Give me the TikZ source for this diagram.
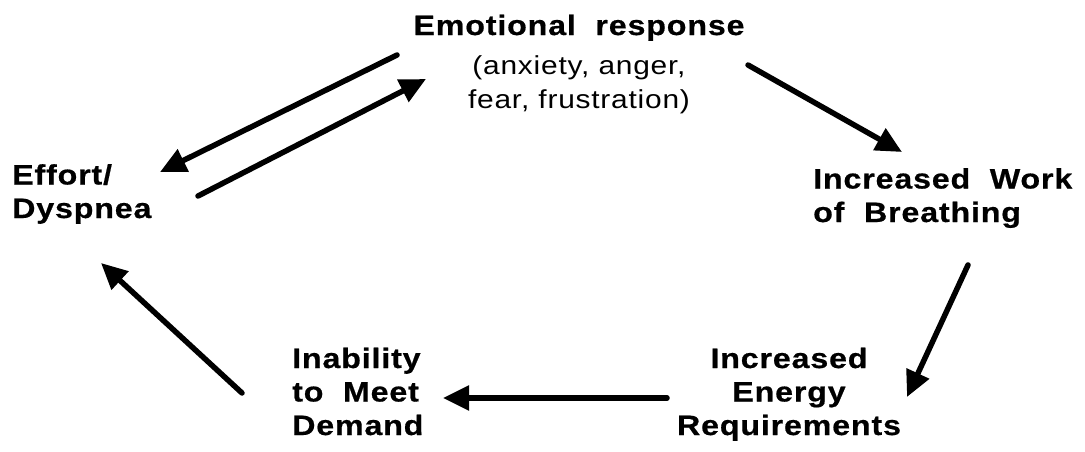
\documentclass[tikz,border=0pt]{standalone}
\usepackage{fontspec}
\setmainfont{Liberation Sans}[FakeStretch=1.15,LetterSpace=3,
  BoldFeatures={FakeBold=0.6}]
\usetikzlibrary{arrows.meta}

\begin{document}
\begin{tikzpicture}
  [x=1pt,y=-1pt,
   % Styles
   box/.style={inner sep=0pt,anchor=base,
     font=\bfseries\fontsize{28}{33.5}\selectfont},
   flow/.style={line width=5.5pt,line cap=round,
     -{Triangle[length=26pt,width=24pt]}}]

  \useasboundingbox (0,0) rectangle (1085,452);

  % The labels (base = last line)
  \node[box,align=center] (emo) at (579,108)
    {Emotional\ \ response\\[6pt]
     {\mdseries\fontsize{26}{32}\selectfont (anxiety, anger,}\\
     {\mdseries\fontsize{26}{32}\selectfont fear, frustration)}};
  \node[box,align=left,anchor=base west] (effort) at (12,218) {Effort/\\Dyspnea};
  \node[box,align=left,anchor=base west] (work) at (813,222) {Increased\ \ Work\\of\ \ Breathing};
  \node[box,align=center] (energy) at (789,435) {Increased\\Energy\\Requirements};
  \node[box,align=left,anchor=base west] (inability) at (292,435) {Inability\\to\ \ Meet\\Demand};

  % Arrow ends
  \coordinate (emo-a) at (397,55);   \coordinate (effort-a) at (160,172);
  \coordinate (effort-b) at (198,196); \coordinate (emo-b) at (426,79);
  \coordinate (emo-c) at (748,65);   \coordinate (work-c) at (902,152);
  \coordinate (work-d) at (968,265); \coordinate (energy-d) at (907,397);
  \coordinate (energy-e) at (667,398); \coordinate (inability-e) at (443,398);
  \coordinate (inability-f) at (242,393); \coordinate (effort-f) at (101,263);

  % The cycle
  \draw[flow] (emo-a) -- (effort-a);
  \draw[flow] (effort-b) -- (emo-b);
  \draw[flow] (emo-c) -- (work-c);
  \draw[flow] (work-d) -- (energy-d);
  \draw[flow] (energy-e) -- (inability-e);
  \draw[flow] (inability-f) -- (effort-f);
\end{tikzpicture}
\end{document}
